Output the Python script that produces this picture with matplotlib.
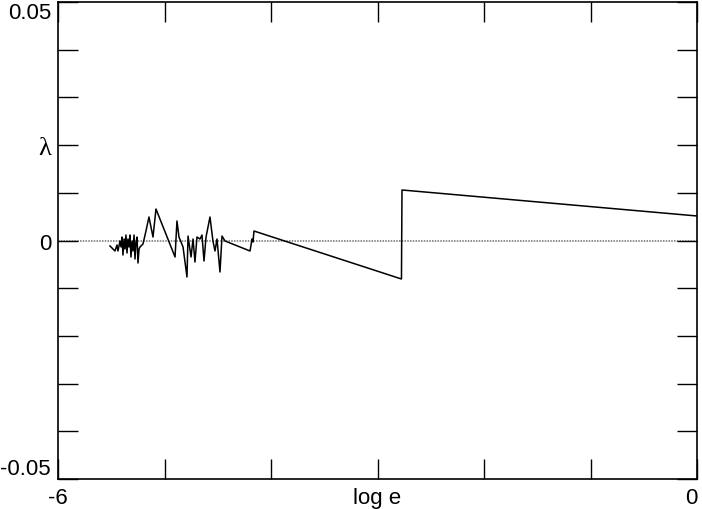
import matplotlib
matplotlib.use("Agg")
from matplotlib import pyplot as plt

plt.rcParams['font.family'] = ['Liberation Sans', 'DejaVu Sans']

# log e values and lambda values
log_e = [-5.512, -5.465, -5.446, -5.437, -5.418, -5.408, -5.399, -5.390, -5.380, -5.371,
         -5.362, -5.352, -5.343, -5.333, -5.324, -5.315, -5.305, -5.296, -5.286, -5.277,
         -5.268, -5.258, -5.249, -5.239, -5.230, -5.202, -5.174, -5.146, -5.127, -5.108,
         -5.080, -4.901, -4.883, -4.864, -4.826, -4.789, -4.779, -4.751, -4.732, -4.714,
         -4.695, -4.667, -4.648, -4.629, -4.610, -4.573, -4.545, -4.526, -4.507, -4.479,
         -4.460, -4.432, -4.197, -4.178, -4.169, -4.160, -2.775, -2.770, 0.0]
lam = [-0.00115, -0.00220, -0.00094, -0.00220, -0.00010, -0.00136, 0.00073, -0.00304, 0.00031, -0.00178,
       0.00115, -0.00262, 0.00031, -0.00136, 0.00115, -0.00346, -0.00010, -0.00220, 0.00115, -0.00388,
       -0.00052, 0.00073, -0.00472, -0.00178, -0.00136, -0.00073, 0.00199, 0.00493, 0.00283, 0.00073,
       0.00660, -0.00346, 0.00409, 0.00073, -0.00136, -0.00765, 0.00094, -0.00346, 0.00031, -0.00451,
       0.00073, 0.00031, 0.00115, -0.00430, 0.00073, 0.00493, -0.00010, -0.00220, 0.00031, -0.00660,
       0.00094, -0.00010, -0.00220, 0.00031, -0.00031, 0.00199, -0.00807, 0.01059, 0.00514]

x_ticks = [-6, -5, -4, -3, -2, -1, 0]
x_labels = ['-6', '', '', 'log e', '', '', '0']
y_ticks = [-0.05, -0.04, -0.03, -0.02, -0.01, 0, 0.01, 0.02, 0.03, 0.04, 0.05]
y_labels = ['-0.05', '', '', '', '', '0', '', '\u03bb', '', '', '0.05']

fig = plt.figure(figsize=(7.02, 5.10), dpi=100)
ax = fig.add_axes([58 / 702, 30 / 510, 639 / 702, 477 / 510])

# Zero reference line
ax.axhline(0, color='#707070', lw=1.1, linestyle=(0, (1, 0.8)), zorder=1)

# Data line
ax.plot(log_e, lam, color='black', lw=1.1, zorder=2)

ax.set_xlim(-6, 0)
ax.set_ylim(-0.05, 0.05)

ax.set_xticks(x_ticks)
ax.set_xticklabels(x_labels)
ax.set_yticks(y_ticks)
ax.set_yticklabels(y_labels)

ax.tick_params(axis='both', direction='in', length=14.5, width=1, labelsize=16,
               top=True, right=True, color='black')
ax.tick_params(axis='x', pad=6)
ax.tick_params(axis='y', pad=5)

for s in ax.spines.values():
    s.set_linewidth(1.2)

# Keep end labels inside the figure like the reference
ylabs = ax.get_yticklabels()
ylabs[0].set_va('bottom')
ylabs[-1].set_va('top')
ylabs[7].set_fontsize(19)
ylabs[7].set_family(['Liberation Serif', 'DejaVu Serif'])
xlabs = ax.get_xticklabels()
xlabs[-1].set_ha('right')

fig.savefig('out.png', dpi=100)
